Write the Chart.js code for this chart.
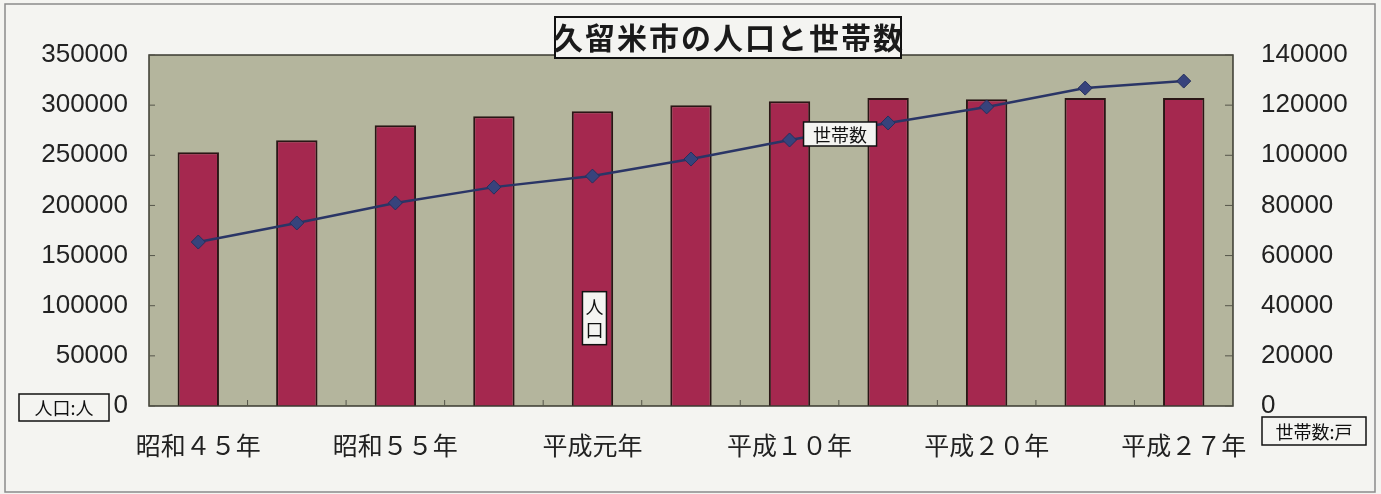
<!DOCTYPE html>
<html>
<head>
<meta charset="utf-8">
<script src="https://cdn.jsdelivr.net/npm/chart.js@4.4.1/dist/chart.umd.min.js"></script>
<style>
html,body{margin:0;padding:0;background:#f4f4f1;}
#wrap{width:1381px;height:494px;position:relative;}
</style>
</head>
<body>
<div id="wrap"><canvas id="c" width="1381" height="494"></canvas></div>
<script>
const categories = ["昭和45年","昭和50年","昭和55年","昭和60年","平成元年","平成5年","平成10年","平成15年","平成20年","平成25年","平成27年"];
const tickLabels = ["昭和４５年","","昭和５５年","","平成元年","","平成１０年","","平成２０年","","平成２７年"];
const population = [253000,265000,280000,289000,294000,300000,304000,307000,306000,307000,307000];
const households = [65400,73000,81000,87300,91700,98500,106100,112900,119300,126800,129600];
const chartTitle = "久留米市の人口と世帯数";
const popLabel = "人口";
const hhLabel = "世帯数";
const leftUnit = "人口:人";
const rightUnit = "世帯数:戸";

const CJK = '"Noto Sans CJK JP", sans-serif';
const NUM = '"Liberation Sans", Arial, sans-serif';

function boxText(ctx, text, x, y, w, h, font){
  ctx.save();
  ctx.fillStyle = '#f4f4f1';
  ctx.fillRect(x, y, w, h);
  ctx.strokeStyle = '#111';
  ctx.lineWidth = 1.5;
  ctx.strokeRect(x, y, w, h);
  ctx.fillStyle = '#111';
  ctx.font = font;
  ctx.textAlign = 'center';
  ctx.textBaseline = 'middle';
  ctx.fillText(text, x + w/2, y + h/2 + 1);
  ctx.restore();
}

const decor = {
  id: 'decor',
  beforeDraw(chart){
    const {ctx, chartArea:a} = chart;
    ctx.save();
    ctx.fillStyle = '#f4f4f1';
    ctx.fillRect(0,0,chart.width,chart.height);
    ctx.strokeStyle = '#8a8a8a';
    ctx.lineWidth = 1.5;
    ctx.strokeRect(5,4,1370,488);
    ctx.fillStyle = '#b4b59d';
    ctx.fillRect(a.left, a.top, a.right-a.left, a.bottom-a.top);
    ctx.restore();
  },
  afterDatasetsDraw(chart){
    const {ctx, chartArea:a, scales} = chart;
    ctx.save();
    ctx.strokeStyle = '#3a3a30';
    ctx.lineWidth = 1.5;
    ctx.strokeRect(a.left, a.top, a.right-a.left, a.bottom-a.top);
    ctx.lineWidth = 1;
    ctx.strokeStyle = '#55554a';
    scales.y.ticks.forEach(t=>{
      const py = scales.y.getPixelForValue(t.value);
      ctx.beginPath(); ctx.moveTo(a.left, py); ctx.lineTo(a.left+6, py); ctx.stroke();
    });
    scales.y1.ticks.forEach(t=>{
      const py = scales.y1.getPixelForValue(t.value);
      ctx.beginPath(); ctx.moveTo(a.right, py); ctx.lineTo(a.right-8, py); ctx.stroke();
    });
    const n = categories.length;
    for(let i=1;i<n;i++){
      const px = (scales.x.getPixelForValue(i-1)+scales.x.getPixelForValue(i))/2;
      ctx.beginPath(); ctx.moveTo(px, a.bottom); ctx.lineTo(px, a.bottom-6); ctx.stroke();
    }
    ctx.restore();
  },
  afterDraw(chart){
    const {ctx, scales} = chart;
    ctx.save();
    ctx.font = 'bold 30px ' + CJK;
    ctx.letterSpacing = '2px';
    const tw = ctx.measureText(chartTitle).width;
    ctx.restore();
    const cx = 728;
    ctx.save();
    ctx.fillStyle = '#f4f4f1';
    ctx.fillRect(cx - 173, 17, 346, 41);
    ctx.strokeStyle = '#111';
    ctx.lineWidth = 2;
    ctx.strokeRect(cx - 173, 17, 346, 41);
    ctx.fillStyle = '#1a1a1a';
    ctx.font = 'bold 30px ' + CJK;
    ctx.letterSpacing = '2px';
    ctx.textAlign = 'left';
    ctx.textBaseline = 'middle';
    ctx.fillText(chartTitle, cx - tw/2 + 1, 38);
    ctx.restore();

    const lineMeta = chart.getDatasetMeta(1);
    const p = lineMeta.data[6];
    boxText(ctx, hhLabel, p.x + 14, p.y - 18, 73, 24, '18px ' + CJK);

    const barMeta = chart.getDatasetMeta(0);
    const b = barMeta.data[4];
    const bx = b.x - 10, by = scales.y.getPixelForValue(114000);
    ctx.save();
    ctx.fillStyle = '#f4f4f1';
    ctx.fillRect(bx, by, 24, 53);
    ctx.strokeStyle = '#111'; ctx.lineWidth = 1.5;
    ctx.strokeRect(bx, by, 24, 53);
    ctx.fillStyle = '#111';
    ctx.font = '18px ' + CJK;
    ctx.textAlign = 'center'; ctx.textBaseline = 'middle';
    ctx.fillText(popLabel[0], bx + 12, by + 15);
    ctx.fillText(popLabel[1], bx + 12, by + 38);
    ctx.restore();

    boxText(ctx, leftUnit, 19, 394, 90, 27, '18px ' + CJK);
    boxText(ctx, rightUnit, 1262, 417, 104, 28, '18px ' + CJK);
  }
};

new Chart(document.getElementById('c'), {
  type: 'bar',
  data: {
    labels: categories,
    datasets: [
      {
        type: 'bar',
        label: popLabel,
        data: population,
        yAxisID: 'y',
        backgroundColor: '#a5284f',
        borderColor: '#2a1616',
        borderWidth: 2,
        barPercentage: 1,
        categoryPercentage: 0.42,
        order: 2
      },
      {
        type: 'line',
        label: hhLabel,
        data: households,
        yAxisID: 'y1',
        borderColor: '#2a3566',
        borderWidth: 2.5,
        pointStyle: 'rectRot',
        pointRadius: 7,
        pointBackgroundColor: '#37437c',
        pointBorderColor: '#26305e',
        pointBorderWidth: 1,
        tension: 0,
        order: 1
      }
    ]
  },
  options: {
    responsive: false,
    animation: false,
    devicePixelRatio: 1,
    layout: { padding: { top: 55, left: 0, right: 0, bottom: 0 } },
    plugins: { legend: { display: false }, tooltip: { enabled: false }, title: { display: false } },
    scales: {
      x: {
        grid: { display: false },
        border: { display: false },
        ticks: {
          autoSkip: false, maxRotation: 0, minRotation: 0,
          padding: 16,
          color: '#222',
          font: { family: CJK, size: 25 },
          callback: (v, i) => tickLabels[i]
        },
        afterFit: s => { s.height = 88; }
      },
      y: {
        position: 'left',
        min: 0, max: 350000,
        grid: { display: false },
        border: { display: false },
        ticks: { stepSize: 50000, padding: 13, color: '#222', font: { family: NUM, size: 26 }, callback: v => String(v) },
        afterFit: s => { s.width = 149; }
      },
      y1: {
        position: 'right',
        min: 0, max: 140000,
        grid: { display: false },
        border: { display: false },
        ticks: { stepSize: 20000, padding: 20, color: '#222', font: { family: NUM, size: 26 }, callback: v => String(v) },
        afterFit: s => { s.width = 148; }
      }
    }
  },
  plugins: [decor]
});
</script>
</body>
</html>
